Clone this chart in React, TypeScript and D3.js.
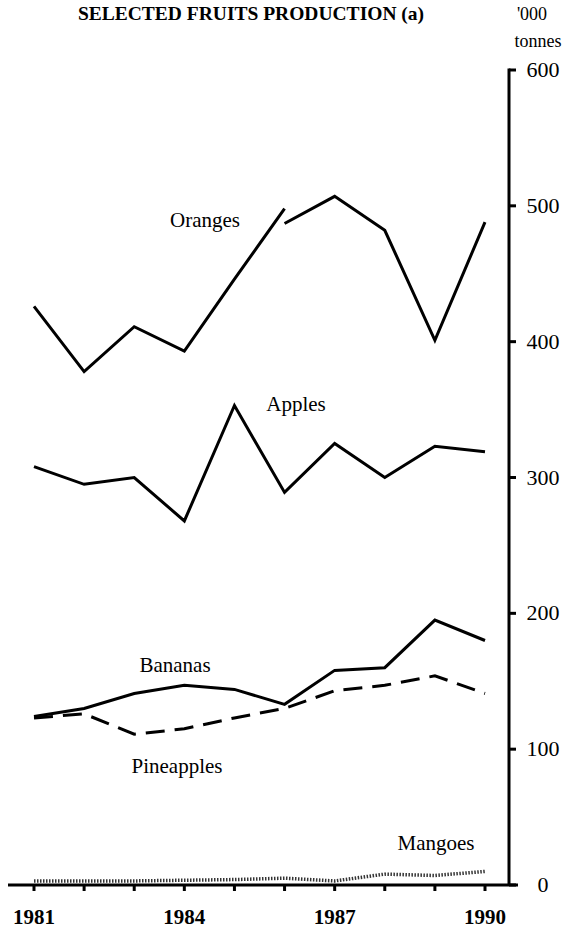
import React from "react";
import * as d3 from "d3";

const years = [1981, 1982, 1983, 1984, 1985, 1986, 1987, 1988, 1989, 1990];
const yearLabels = [1981, 1984, 1987, 1990];
const valueTicks = [0, 100, 200, 300, 400, 500, 600];

// oranges have a break in the series at 1986
const orangesA = [426, 378, 411, 393, 446, 498];
const orangesB = [487, 507, 482, 401, 488];
const apples = [308, 295, 300, 268, 353, 289, 325, 300, 323, 319];
const bananas = [124, 130, 141, 147, 144, 133, 158, 160, 195, 180];
const pineapples = [123, 126, 111, 115, 123, 130, 143, 147, 154, 141];
const mangoes = [3, 3, 3, 3.5, 4, 5, 3, 8, 7, 10];

const width = 573;
const height = 933;
const font = "'Liberation Serif', 'Times New Roman', serif";

export default function App() {
  const x = d3.scaleLinear().domain([1981, 1990]).range([34, 485]);
  const y = d3.scaleLinear().domain([0, 600]).range([885, 70]);
  const axisX = 509;

  const line = d3
    .line<[number, number]>()
    .x(d => x(d[0]))
    .y(d => y(d[1]));

  const pairs = (vals: number[], from = 0) =>
    vals.map((v, i) => [years[from + i], v] as [number, number]);

  const labels = [
    { text: "Oranges", x: 205, y: 227 },
    { text: "Apples", x: 296, y: 411 },
    { text: "Bananas", x: 175, y: 672 },
    { text: "Pineapples", x: 177, y: 773 },
    { text: "Mangoes", x: 436, y: 850 }
  ];

  return (
    <svg
      width={width}
      height={height}
      style={{ position: "absolute", left: 0, top: 0, background: "#fff" }}
      fontFamily={font}
    >
      <text x={251} y={20} textAnchor="middle" fontSize={19.5} fontWeight="bold">
        SELECTED FRUITS PRODUCTION (a)
      </text>
      <text x={532} y={20} textAnchor="middle" fontSize={18}>
        '000
      </text>
      <text x={538} y={47} textAnchor="middle" fontSize={18}>
        tonnes
      </text>

      {/* axes */}
      <line x1={8} x2={518} y1={y(0)} y2={y(0)} stroke="#000" strokeWidth={3} />
      <line x1={axisX} x2={axisX} y1={y(600) - 1.5} y2={y(0)} stroke="#000" strokeWidth={3} />
      {years.map(yr => (
        <line key={yr} x1={x(yr)} x2={x(yr)} y1={y(0)} y2={y(0) + 6} stroke="#000" strokeWidth={3} />
      ))}
      {valueTicks.map(v => (
        <g key={v}>
          <line x1={axisX} x2={axisX + 7} y1={y(v)} y2={y(v)} stroke="#000" strokeWidth={3} />
          <text x={543} y={y(v) + 7} textAnchor="middle" fontSize={22}>
            {v}
          </text>
        </g>
      ))}
      {yearLabels.map(yr => (
        <text key={yr} x={x(yr)} y={924} textAnchor="middle" fontSize={21} fontWeight="bold">
          {yr}
        </text>
      ))}

      {/* series */}
      <g fill="none" stroke="#000" strokeWidth={3} strokeLinejoin="miter">
        <path d={line(pairs(orangesA)) || ""} />
        <path d={line(pairs(orangesB, 5)) || ""} />
        <path d={line(pairs(apples)) || ""} />
        <path d={line(pairs(bananas)) || ""} />
        <path d={line(pairs(pineapples)) || ""} strokeDasharray="19 10" />
        <path d={line(pairs(mangoes)) || ""} strokeWidth={3.5} stroke="#333" strokeDasharray="1.5 1.5" />
      </g>

      {labels.map(l => (
        <text key={l.text} x={l.x} y={l.y} textAnchor="middle" fontSize={21}>
          {l.text}
        </text>
      ))}
    </svg>
  );
}
